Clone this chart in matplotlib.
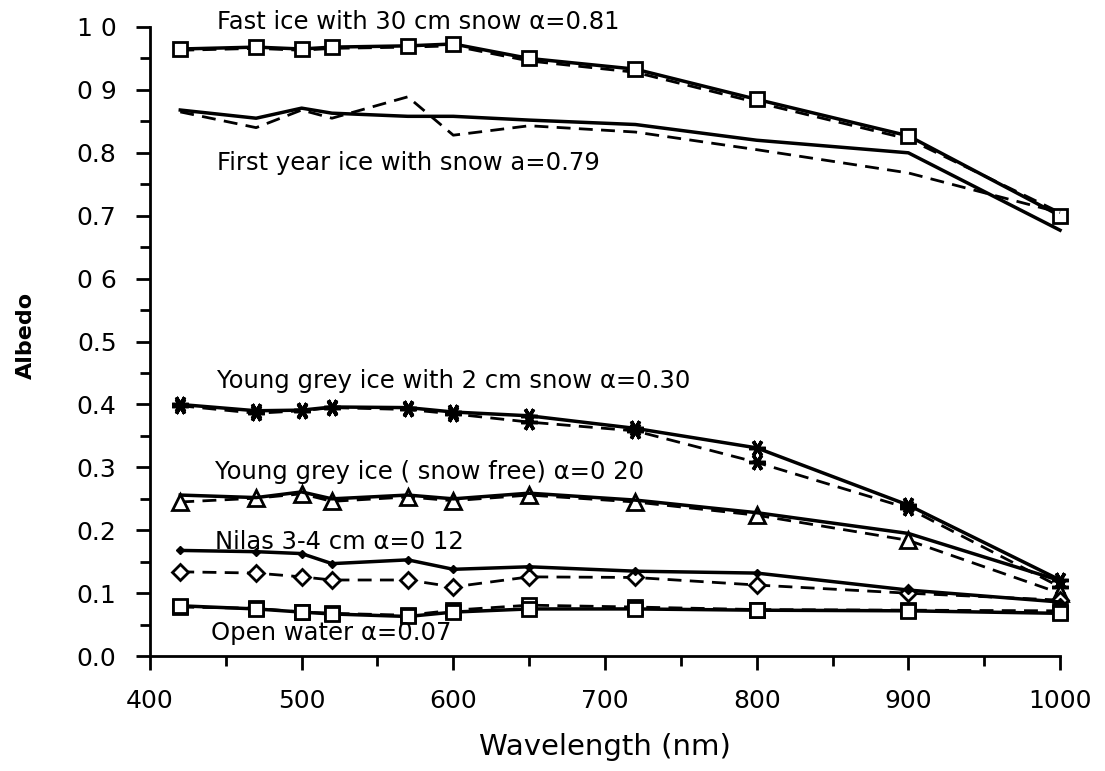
import matplotlib
matplotlib.use("Agg")
import matplotlib.pyplot as plt

# wavelengths (nm) where the spectra were sampled
wl = [420, 470, 500, 520, 570, 600, 650, 720, 800, 900, 1000]

# fast ice with 30 cm snow
fast_solid = [0.965, 0.968, 0.965, 0.968, 0.970, 0.973, 0.950, 0.933, 0.885, 0.827, 0.700]
fast_dash = [0.963, 0.966, 0.963, 0.966, 0.968, 0.970, 0.946, 0.928, 0.880, 0.822, 0.705]

# first year ice with snow
fy_solid = [0.868, 0.855, 0.871, 0.863, 0.858, 0.858, 0.852, 0.845, 0.820, 0.800, 0.677]
fy_dash = [0.865, 0.840, 0.868, 0.855, 0.889, 0.828, 0.843, 0.833, 0.805, 0.768, 0.705]

# young grey ice with 2 cm snow
yg2_solid = [0.400, 0.390, 0.391, 0.396, 0.395, 0.388, 0.382, 0.362, 0.331, 0.240, 0.121]
yg2_dash = [0.398, 0.386, 0.390, 0.395, 0.392, 0.385, 0.372, 0.358, 0.308, 0.235, 0.110]

# young grey ice, snow free
ygf_solid = [0.256, 0.252, 0.261, 0.250, 0.256, 0.250, 0.259, 0.248, 0.228, 0.195, 0.120]
ygf_dash = [0.245, 0.251, 0.258, 0.246, 0.253, 0.247, 0.256, 0.245, 0.224, 0.184, 0.100]

# nilas 3-4 cm
nilas_solid = [0.168, 0.166, 0.163, 0.147, 0.153, 0.138, 0.142, 0.135, 0.132, 0.105, 0.086]
nilas_dash = [0.134, 0.132, 0.126, 0.121, 0.121, 0.110, 0.126, 0.125, 0.113, 0.100, 0.089]

# open water
ow_solid = [0.080, 0.075, 0.070, 0.067, 0.063, 0.070, 0.075, 0.075, 0.073, 0.072, 0.068]
ow_dash = [0.078, 0.076, 0.070, 0.068, 0.065, 0.073, 0.081, 0.078, 0.074, 0.073, 0.072]

y_ticks = [0.0, 0.1, 0.2, 0.3, 0.4, 0.5, 0.6, 0.7, 0.8, 0.9, 1.0]
y_labels = ["0.0", "0.1", "0.2", "0.3", "0.4", "0.5", "0 6", "0.7", "0.8", "0 9", "1 0"]
x_ticks = [400, 500, 600, 700, 800, 900, 1000]

labels = [
    (444, 1.008, "Fast ice with 30 cm snow \u03b1=0.81"),
    (444, 0.784, "First year ice with snow a=0.79"),
    (444, 0.437, "Young grey ice with 2 cm snow \u03b1=0.30"),
    (443, 0.293, "Young grey ice ( snow free) \u03b1=0 20"),
    (443, 0.181, "Nilas 3-4 cm \u03b1=0 12"),
    (440, 0.037, "Open water \u03b1=0.07"),
]

plt.rcParams['font.family'] = ['DejaVu Sans']

fig = plt.figure(figsize=(11.05, 7.71), dpi=100)
ax = fig.add_axes([0.1357, 0.149, 0.8236, 0.816])

solid = dict(color='black', lw=2.5, linestyle='-', clip_on=False)
dash = dict(color='black', lw=2.0, linestyle=(0, (5, 3)), clip_on=False)
sq = dict(marker='s', markersize=10, markerfacecolor='white', markeredgecolor='black', markeredgewidth=2)
tri = dict(marker='^', markersize=11, markerfacecolor='white', markeredgecolor='black', markeredgewidth=2)
ast = dict(marker=(6, 2, 90), markersize=12, markeredgecolor='black', markeredgewidth=2.5)
dia = dict(marker='D', markersize=8, markerfacecolor='white', markeredgecolor='black', markeredgewidth=2)
dot = dict(marker='D', markersize=4, markerfacecolor='black', markeredgecolor='black')

ax.plot(wl, fast_dash, **dash)
ax.plot(wl, fast_solid, **solid, **sq)
ax.plot(wl, fy_dash, **dash)
ax.plot(wl, fy_solid, **solid)
ax.plot(wl, yg2_dash, **dash, **ast)
ax.plot(wl, yg2_solid, **solid, **ast)
ax.plot(wl, ygf_dash, **dash, **tri)
ax.plot(wl, ygf_solid, **solid)
ax.plot(wl, nilas_dash, **dash, **dia)
ax.plot(wl, nilas_solid, **solid, **dot)
ax.plot(wl, ow_dash, **dash, **sq)
ax.plot(wl, ow_solid, **solid, **sq)

for x, y, t in labels:
    ax.text(x, y, t, fontsize=17.5, va='center', ha='left')

ax.set_xlim(400, 1000)
ax.set_ylim(0, 1.0)
ax.spines['top'].set_visible(False)
ax.spines['right'].set_visible(False)
ax.spines['left'].set_linewidth(2)
ax.spines['bottom'].set_linewidth(2)

ax.set_xticks(x_ticks)
ax.set_xticks(range(450, 1000, 100), minor=True)
ax.set_yticks(y_ticks)
ax.set_yticklabels(y_labels)
ax.set_yticks([0.05 + 0.1 * i for i in range(10)], minor=True)
ax.tick_params(which='major', direction='out', length=10, width=2, labelsize=18, pad=14)
ax.tick_params(which='minor', direction='out', length=7, width=2)
ax.tick_params(axis='x', which='major', pad=14)

ax.set_xlabel("Wavelength (nm)", fontsize=21, labelpad=14)
ax.set_ylabel("Albedo", fontsize=16, fontweight='bold')
ax.yaxis.set_label_coords(-0.125, 0.51)

fig.savefig("out.png", dpi=100)
